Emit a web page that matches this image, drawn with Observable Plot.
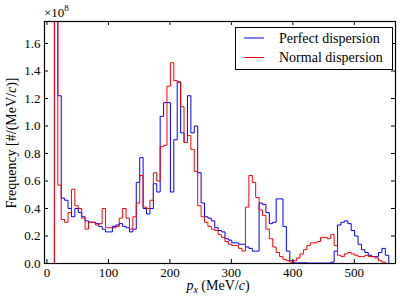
<!DOCTYPE html>
<html><head><meta charset="utf-8">
<script src="https://cdn.jsdelivr.net/npm/d3@7"></script>
<script src="https://cdn.jsdelivr.net/npm/@observablehq/plot@0.6"></script>
<style>
body{margin:0;background:#fff;}
#chart{width:400px;height:300px;}
</style></head><body><div id="chart"></div>
<script>
// Histogram bins (MeV/c)
const binStart = 1;
const binWidth = 5.55;
// Frequency in units of 1e8 per bin
const perfect = [0,0,3.0,1.22,0.475,0.46,0.40,0.34,0.40,0.37,
  0.34,0.31,0.30,0.30,0.29,0.27,0.25,0.23,0.23,0.27,
  0.28,0.29,0.27,0.26,0.23,0.25,0.59,0.77,0.40,0.36,
  0.40,0.58,0.52,1.07,1.17,1.17,0.52,0.90,1.32,0.95,
  0.88,1.22,0.95,1.00,0.66,0.44,0.34,0.33,0.31,0.26,
  0.24,0.23,0.18,0.17,0.15,0.15,0.14,0.14,0.12,0.11,
  0.09,0.09,0.44,0.43,0.37,0.29,0.30,0.47,0.47,0.27,
  0.09,0.02,0.005,0.005,0.005,0.005,0.003,0.003,0.003,0.003,
  0.003,0.003,0.003,0.01,0.09,0.28,0.30,0.31,0.29,0.24,
  0.20,0.14,0.10,0.08,0.06,0.05,0.05,0.08,0.11,0.06];
const normal = [0,0,3.0,0.57,0.32,0.30,0.37,0.54,0.42,0.40,
  0.33,0.25,0.30,0.30,0.28,0.29,0.40,0.26,0.26,0.26,
  0.27,0.33,0.40,0.33,0.25,0.34,0.44,0.64,0.41,0.40,
  0.46,0.66,0.60,0.85,0.86,1.29,1.46,1.33,1.32,1.14,
  0.88,0.93,0.83,0.67,0.42,0.34,0.30,0.27,0.25,0.24,
  0.21,0.19,0.16,0.14,0.13,0.13,0.11,0.09,0.41,0.64,
  0.59,0.48,0.39,0.35,0.25,0.18,0.12,0.08,0.05,0.03,
  0.02,0.01,0.02,0.04,0.07,0.10,0.13,0.15,0.15,0.16,
  0.19,0.19,0.18,0.21,0.13,0.06,0.05,0.07,0.08,0.07,
  0.06,0.05,0.05,0.06,0.05,0.05,0.04,0.02,0.01,0.00];
const seriesNames = ["Perfect dispersion", "Normal dispersion"];
const seriesColors = ["#0000ff", "#ff0000"];
const xTicks = [0, 100, 200, 300, 400, 500];
const yTicks = [0, 0.2, 0.4, 0.6, 0.8, 1.0, 1.2, 1.4, 1.6];

function outline(values, name) {
  const pts = [{x: binStart, y: 0, s: name}];
  values.forEach((v, i) => pts.push({x: binStart + i * binWidth, y: v, s: name}));
  pts.push({x: binStart + values.length * binWidth, y: 0, s: name});
  return pts;
}

const W = 400, H = 300, mL = 44, mR = 5, mT = 21, mB = 37;
const fw = W - mL - mR, fh = H - mT - mB, tl = 4;
const serif = "'Liberation Serif', 'Times New Roman', 'DejaVu Serif', serif";

const svg = Plot.plot({
  width: W, height: H,
  marginLeft: mL, marginRight: mR, marginTop: mT, marginBottom: mB,
  style: {fontFamily: serif, fontSize: "13px", color: "#000", background: "#fff"},
  x: {domain: [-4, 567], label: null},
  y: {domain: [0, 1.76], label: null},
  marks: [
    Plot.axisX(xTicks, {anchor: "bottom", tickSize: 0, tickPadding: 4, label: null, fontSize: 13}),
    Plot.axisY(yTicks, {anchor: "left", tickSize: 0, tickPadding: 4, label: null, fontSize: 13, tickFormat: d3.format(".1f")}),
    Plot.tickX(xTicks, {x: d => d, insetTop: fh - tl, stroke: "#000"}),
    Plot.tickX(xTicks, {x: d => d, insetBottom: fh - tl, stroke: "#000"}),
    Plot.tickY(yTicks, {y: d => d, insetRight: fw - tl, stroke: "#000"}),
    Plot.tickY(yTicks, {y: d => d, insetLeft: fw - tl, stroke: "#000"}),
    Plot.line(outline(perfect, seriesNames[0]), {x: "x", y: "y", curve: "step-after", stroke: seriesColors[0], strokeWidth: 1, clip: true}),
    Plot.line(outline(normal, seriesNames[1]), {x: "x", y: "y", curve: "step-after", stroke: seriesColors[1], strokeWidth: 1, clip: true}),
    Plot.frame({stroke: "#000", strokeWidth: 1.2})
  ]
});

const s = d3.select(svg);
// offset text
const off = s.append("text").attr("x", 44).attr("y", 17).attr("text-anchor", "start").attr("font-family", serif).attr("font-size", 13).attr("fill", "#000");
off.append("tspan").text("×10");
off.append("tspan").attr("dy", -6).attr("font-size", 9).text("8");
// x label
const xl = s.append("text").attr("x", 218).attr("y", 290).attr("text-anchor", "middle").attr("font-family", serif).attr("font-size", 14).attr("fill", "#000");
xl.append("tspan").attr("font-style", "italic").text("p");
xl.append("tspan").attr("dy", 3).attr("font-size", 10).attr("font-style", "italic").text("x");
xl.append("tspan").attr("dy", -3).text(" (MeV/");
xl.append("tspan").attr("font-style", "italic").text("c");
xl.append("tspan").text(")");
// y label
const yl = s.append("text").attr("transform", "translate(16,143) rotate(-90)").attr("text-anchor", "middle").attr("font-family", serif).attr("font-size", 14).attr("fill", "#000");
yl.append("tspan").text("Frequency [#/(MeV/");
yl.append("tspan").attr("font-style", "italic").text("c");
yl.append("tspan").text(")]");
// legend
const lg = s.append("g");
lg.append("rect").attr("x", 235.5).attr("y", 27.5).attr("width", 157).attr("height", 42).attr("fill", "#fff").attr("stroke", "#000").attr("stroke-width", 1);
seriesNames.forEach((n, i) => {
  const y = 38 + i * 19.5;
  lg.append("line").attr("x1", 244).attr("x2", 264).attr("y1", y).attr("y2", y).attr("stroke", seriesColors[i]).attr("stroke-width", 1);
  lg.append("text").attr("x", 279).attr("y", y + 4.5).attr("text-anchor", "start").attr("font-family", serif).attr("font-size", 14).attr("fill", "#000").text(n);
});
document.getElementById("chart").appendChild(svg);
</script></body></html>
